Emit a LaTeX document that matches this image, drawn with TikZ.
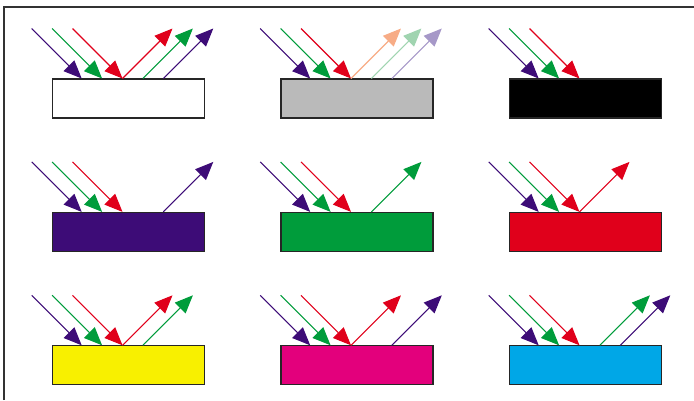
\documentclass[tikz,border=0pt]{standalone}
\usetikzlibrary{arrows.meta}
\definecolor{cpurple}{HTML}{3D0C77}
\definecolor{cgreen}{HTML}{009C3B}
\definecolor{cred}{HTML}{E0001B}
\definecolor{cgray}{HTML}{BABABA}
\definecolor{cyellow}{HTML}{F8F000}
\definecolor{cmagenta}{HTML}{E3007C}
\definecolor{ccyan}{HTML}{00A7E7}
\definecolor{fred}{HTML}{F7AC86}
\definecolor{fgreen}{HTML}{A0D4B0}
\definecolor{fpurple}{HTML}{A698C8}
\definecolor{framecol}{HTML}{333333}
\tikzset{
  panelbox/.style={draw=black!85, line width=1.2pt, minimum width=152pt, minimum height=39pt, inner sep=0pt, outer sep=0pt},
  ray/.style={line width=1.1pt, -{Triangle[length=18pt,width=15pt]}},
  framing/.style={draw=framecol, line width=1.4pt}
}
\begin{document}
\begin{tikzpicture}[x=1pt,y=-1pt]
\useasboundingbox (0,0) rectangle (694,400);
\coordinate (fa) at (4,400);
\coordinate (fb) at (4,7);
\coordinate (fc) at (694,7);
\draw[framing] (fa) -- (fb) -- (fc);
\foreach \n/\c/\r/\f in {1/0/0/white, 2/1/0/cgray, 3/2/0/black, 4/0/1/cpurple, 5/1/1/cgreen, 6/2/1/cred, 7/0/2/cyellow, 8/1/2/cmagenta, 9/2/2/ccyan}{
  \pgfmathsetmacro\ox{228.5*\c}
  \pgfmathsetmacro\oy{133.4*\r}
  \node[panelbox, fill=\f, anchor=north west] (box\n) at (\ox+52.5, \oy+79) {};
  \foreach \i in {0,1,2}{
    \coordinate (in\n-\i) at (\ox+31.7+20.4*\i, \oy+28.5);
    \coordinate (hit\n-\i) at (\ox+81.7+20.4*\i, \oy+78.5);
    \coordinate (src\n-\i) at (\ox+122.5+20.4*\i, \oy+78.5);
    \coordinate (out\n-\i) at (\ox+172.5+20.4*\i, \oy+28.5);
  }
  \draw[ray, cpurple] (in\n-0) -- (hit\n-0);
  \draw[ray, cgreen] (in\n-1) -- (hit\n-1);
  \draw[ray, cred] (in\n-2) -- (hit\n-2);
}
\foreach \n/\j/\col in {1/0/cred,1/1/cgreen,1/2/cpurple,2/0/fred,2/1/fgreen,2/2/fpurple,4/2/cpurple,5/1/cgreen,6/0/cred,7/0/cred,7/1/cgreen,8/0/cred,8/2/cpurple,9/1/cgreen,9/2/cpurple}{
  \draw[ray, \col] (src\n-\j) -- (out\n-\j);
}
\end{tikzpicture}
\end{document}
